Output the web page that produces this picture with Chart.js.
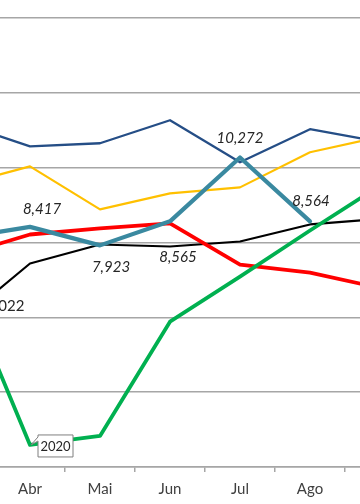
<!DOCTYPE html>
<html>
<head>
<meta charset="utf-8">
<script src="https://cdn.jsdelivr.net/npm/chart.js@4.4.1/dist/chart.umd.min.js"></script>
<style>
  html, body { margin: 0; padding: 0; background: #fff; }
  #wrap { position: relative; width: 360px; height: 504px; overflow: hidden; }
  #cv { position: absolute; left: -75px; top: 0; }
</style>
</head>
<body>
<div id="wrap"><canvas id="cv" width="490" height="513"></canvas></div>
<script>
const months = ['Mar', 'Abr', 'Mai', 'Jun', 'Jul', 'Ago', 'Set'];
const yTicks = [2000, 4000, 6000, 8000, 10000, 12000, 14000];

const sBlue   = [11196, 10571, 10652, 11268, 10143, 11027, 10689];
const sOrange = [9535, 10036, 8884, 9313, 9473, 10411, 10823];
const sTeal   = [8115, 8417, 7923, 8565, 10272, 8564, null];
const sRed    = [7652, 8214, 8375, 8509, 7411, 7196, 6784];
const sBlack  = [5884, 7438, 7946, 7893, 8027, 8482, 8632];
const sGreen  = [7089, 2589, 2830, 5884, 7089, 8321, 9522];

const labelFont = 'italic 15px Lato, "DejaVu Sans", sans-serif';

const annot = {
  id: 'annot',
  afterDatasetsDraw(chart) {
    const ctx = chart.ctx;
    const xs = chart.scales.x, ys = chart.scales.y;
    const offs = [null, [12, -18], [11, 22], [8, 36], [0, -19], [1, -20], null];
    ctx.save();
    ctx.font = labelFont;
    ctx.fillStyle = '#262626';
    ctx.textAlign = 'center';
    ctx.textBaseline = 'middle';
    sTeal.forEach((v, i) => {
      if (v == null || !offs[i]) return;
      const px = xs.getPixelForValue(i), py = ys.getPixelForValue(v);
      ctx.fillText(v.toLocaleString('en-US'), px + offs[i][0], py + offs[i][1]);
    });
    ctx.font = '15px Lato, "DejaVu Sans", sans-serif';
    const bx = xs.getPixelForValue(0), by = ys.getPixelForValue(sBlack[0]);
    ctx.fillText('2022', bx + 47, by - 16);
    const gx = xs.getPixelForValue(1), gy = ys.getPixelForValue(sGreen[1]);
    const L = gx + 8, T = gy - 10, W = 35, H = 22;
    ctx.beginPath();
    ctx.moveTo(L, T);
    ctx.lineTo(L + W, T);
    ctx.lineTo(L + W, T + H);
    ctx.lineTo(L, T + H);
    ctx.lineTo(L, T + 6);
    ctx.lineTo(gx + 1, gy);
    ctx.lineTo(L, T + 2);
    ctx.closePath();
    ctx.fillStyle = '#fff';
    ctx.fill();
    ctx.strokeStyle = '#7f7f7f';
    ctx.lineWidth = 1;
    ctx.stroke();
    ctx.fillStyle = '#262626';
    ctx.font = '13px Lato, "DejaVu Sans", sans-serif';
    ctx.fillText('2020', L + W / 2, T + H / 2 + 1);
    ctx.restore();
  }
};

function ds(data, color, width, order) {
  return {
    data, borderColor: color, backgroundColor: color, borderWidth: width,
    pointRadius: 0, tension: 0, fill: false, order,
    borderJoinStyle: 'round', borderCapStyle: 'round', spanGaps: false
  };
}

new Chart(document.getElementById('cv'), {
  type: 'line',
  data: {
    labels: months,
    datasets: [
      ds(sBlue, '#254E86', 2.3, 6),
      ds(sOrange, '#FFC000', 2.2, 5),
      ds(sBlack, '#000000', 2.2, 4),
      ds(sRed, '#FF0000', 3.8, 3),
      ds(sGreen, '#00B050', 3.8, 2),
      ds(sTeal, '#3A89A0', 4.2, 1)
    ]
  },
  options: {
    responsive: false,
    animation: false,
    layout: { padding: { top: 18, bottom: 7, left: 0, right: 0 } },
    plugins: { legend: { display: false }, tooltip: { enabled: false } },
    scales: {
      x: {
        type: 'category',
        offset: true,
        grid: { display: true, drawOnChartArea: false, drawTicks: true, tickLength: 5, offset: true, color: '#a6a6a6', lineWidth: 1.5 },
        border: { display: true, color: '#a6a6a6', width: 1.5 },
        ticks: { color: '#404040', font: { family: 'Lato, "DejaVu Sans", sans-serif', size: 15 }, padding: 8, maxRotation: 0, autoSkip: false }
      },
      y: {
        min: yTicks[0], max: yTicks[yTicks.length - 1],
        afterBuildTicks(scale) { scale.ticks = yTicks.map(v => ({ value: v })); },
        ticks: { display: false },
        grid: { color: '#a6a6a6', lineWidth: 1.5, drawTicks: false },
        border: { display: false }
      }
    }
  },
  plugins: [annot]
});
</script>
</body>
</html>
